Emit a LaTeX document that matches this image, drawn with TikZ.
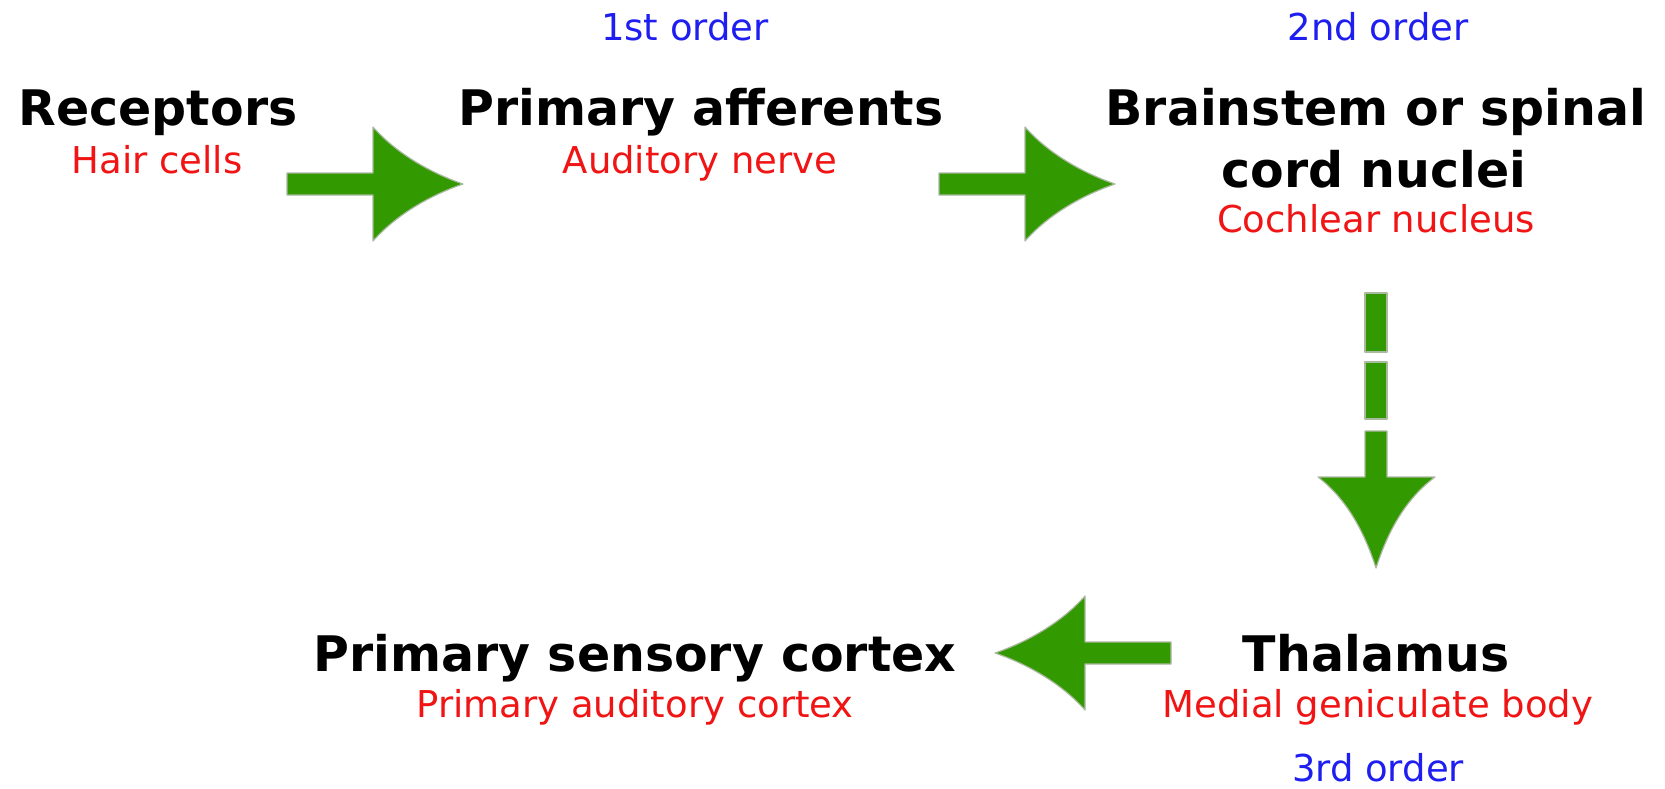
\documentclass[tikz,border=0pt]{standalone}
\usepackage{fontspec}
\setmainfont{DejaVu Sans}
\definecolor{arrgreen}{RGB}{51,153,0}
\definecolor{arredge}{RGB}{170,185,160}
\definecolor{subred}{RGB}{240,20,20}
\definecolor{ordblue}{RGB}{30,30,240}
\tikzset{
  title/.style={anchor=base,inner sep=0pt,font=\bfseries\fontsize{49}{56}\selectfont,text=black},
  sub/.style={anchor=base,inner sep=0pt,font=\fontsize{37}{44}\selectfont,text=subred},
  order/.style={anchor=base,inner sep=0pt,font=\fontsize{37}{44}\selectfont,text=ordblue},
  fat/.style={fill=arrgreen,draw=arredge,line width=1.2pt,line join=round},
  fatarrow/.pic={
    \path[fat] (-176,-11) -- (-90,-11) -- (-90,-57)
      .. controls (-66,-30) and (-32,-11) .. (0,0)
      .. controls (-32,11) and (-66,30) .. (-90,57)
      -- (-90,11) -- (-176,11) -- cycle;
  }
}
\begin{document}
\begin{tikzpicture}[x=1pt,y=-1pt]
\useasboundingbox (0,0) rectangle (1665,788);
% orders
\node[order] (o1) at (685,40) {1st order};
\node[order] (o2) at (1378,40) {2nd order};
\node[order] (o3) at (1378,781) {3rd order};
% receptors
\node[title] (rec) at (158,125) {Receptors};
\node[sub] (recs) at (157,173) {Hair cells};
% primary afferents
\node[title] (pa) at (701,125) {Primary afferents};
\node[sub] (pas) at (700,173) {Auditory nerve};
% brainstem
\node[title] (bs) at (1376,125) {Brainstem or spinal};
\node[title] (bs2) at (1374,187) {cord nuclei};
\node[sub] (bss) at (1376,232) {Cochlear nucleus};
% thalamus
\node[title] (th) at (1376,671) {Thalamus};
\node[sub] (ths) at (1378,717) {Medial geniculate body};
% cortex
\node[title] (cx) at (635,671) {Primary sensory cortex};
\node[sub] (cxs) at (635,717) {Primary auditory cortex};
% arrows
\coordinate (t1) at (463,184);
\coordinate (t2) at (1115,184);
\coordinate (t4) at (995,653);
\pic at (t1) {fatarrow};
\pic at (t2) {fatarrow};
\pic[xscale=-1] at (t4) {fatarrow};
% vertical dashed arrow
\coordinate (t3) at (1376,568);
\path[fat] (1365,293) rectangle (1387,352);
\path[fat] (1365,362) rectangle (1387,419);
\path[fat] (1365,431) -- (1365,477) -- (1318,477)
  .. controls (1348,500) and (1365,534) .. (t3)
  .. controls (1387,534) and (1404,500) .. (1435,477)
  -- (1387,477) -- (1387,431) -- cycle;
\end{tikzpicture}
\end{document}
